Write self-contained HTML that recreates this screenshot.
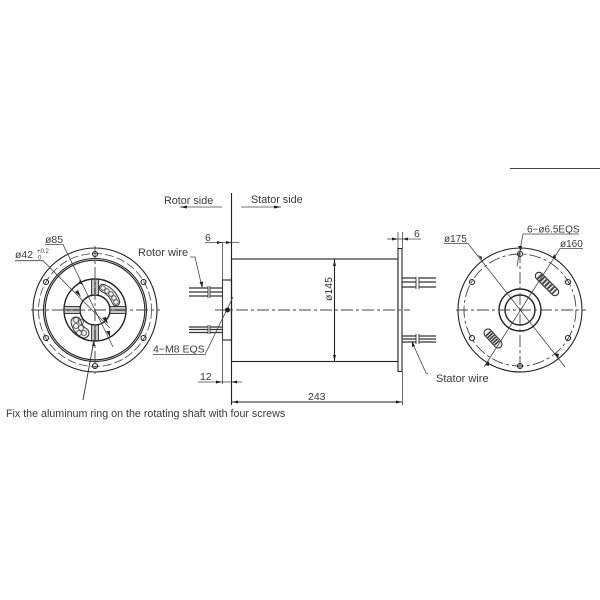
<!DOCTYPE html>
<html><head><meta charset="utf-8"><style>
html,body{margin:0;padding:0;background:#fff;width:600px;height:600px;overflow:hidden}
svg{display:block;filter:blur(.3px)}
text{font-family:"Liberation Sans",sans-serif;fill:#3a3a3a}
.l{stroke:#222;stroke-width:1.1;fill:none}
.t{stroke:#444;stroke-width:.8;fill:none}
.c{stroke:#444;stroke-width:.9;fill:none;stroke-dasharray:12 3 3 3}
.d{stroke:#444;stroke-width:.8;fill:none;stroke-dasharray:9 3}
.h{stroke:#222;stroke-width:1.4;fill:none}
.a{fill:#222;stroke:none}
.w{stroke:#333;stroke-width:1.3;fill:none}
</style></head><body>
<svg width="600" height="600" viewBox="0 0 600 600" xmlns="http://www.w3.org/2000/svg">
<line x1="510" y1="168.500" x2="600" y2="168.500" stroke="#444" stroke-width="1"/>

<!-- Left view -->
<g>
<circle cx="95" cy="310" r="62" class="l"/>
<circle cx="95" cy="310" r="51.500" class="l"/>
<circle cx="95" cy="310" r="49.800" class="l"/>
<circle cx="95" cy="310" r="56.500" class="d"/>
<circle cx="95" cy="310" r="31" class="h"/>
<circle cx="95" cy="310" r="15" class="h"/>
<g stroke="#888" stroke-width="3">
<path d="M95 280V295M95 325V340M65 310H80M110 310H125"/>
</g>
<g class="l">
<path d="M91.700 280V295M98.300 280V295M91.700 325V340M98.300 325V340M65 306.700H80M65 313.300H80M110 306.700H125M110 313.300H125"/>
</g>
<line x1="31" y1="310" x2="160" y2="310" class="c"/>
<line x1="95" y1="246" x2="95" y2="374" class="c"/>
<g class="l" fill="#fff">
<circle cx="95" cy="254" r="2.500"/><circle cx="95" cy="366" r="2.500"/>
<circle cx="46" cy="282" r="2.500"/><circle cx="143.500" cy="282" r="2.500"/>
<circle cx="46" cy="338" r="2.500"/><circle cx="143.500" cy="338" r="2.500"/>
</g>
<path d="M103 288 A24 24 0 0 1 116 302" stroke="#333" stroke-width="8.500" stroke-linecap="round" fill="none"/>
<path d="M103 288 A24 24 0 0 1 116 302" stroke="#eee" stroke-width="6.500" stroke-linecap="round" fill="none"/>
<g class="t" stroke-width="1">
<circle cx="103" cy="288" r="2.300"/><circle cx="107" cy="291" r="2.300"/><circle cx="111" cy="294" r="2.300"/><circle cx="114" cy="298" r="2.300"/><circle cx="116" cy="302" r="2.300"/>
</g>
<path d="M76 322 Q78 330 84 333" stroke="#333" stroke-width="11" stroke-linecap="round" fill="none"/>
<path d="M76 322 Q78 330 84 333" stroke="#eee" stroke-width="9" stroke-linecap="round" fill="none"/>
<g class="t" stroke-width="1">
<circle cx="76" cy="320" r="2.500"/><circle cx="81" cy="322" r="2.500"/><circle cx="76" cy="326" r="2.500"/><circle cx="81" cy="328" r="2.500"/><circle cx="84" cy="333" r="2.500"/><circle cx="79" cy="333" r="2.500"/>
</g>
<polyline points="15,260.700 43,260.700 110,328" class="t"/>
<polyline points="45,244.500 63,244.500 113,347" class="t"/>
<polygon class="a" points="80,279 83,285 79,283"/>
<polygon class="a" points="81,297 75,292 78,290"/>
<polygon class="a" points="110,337 106,331 110,331"/>
<polygon class="a" points="108,324 102,318 106,317"/>
<polygon class="a" points="94,340 92,346 95,346"/>
<line x1="83" y1="400" x2="94" y2="340" stroke="#333" stroke-width=".9"/>
</g>
<text x="45" y="243" font-size="10.500">ø85</text>
<text x="15" y="258" font-size="10.500">ø42</text>
<text x="37" y="253" font-size="6">+0.2</text>
<text x="38" y="259.500" font-size="6">0</text>

<!-- Side labels -->
<text x="164" y="204" font-size="10.800">Rotor side</text>
<text x="251" y="203" font-size="10.800">Stator side</text>
<line x1="180" y1="207" x2="222" y2="207" class="t"/>
<polygon class="a" points="180,207 187,205.500 187,208.500"/>
<line x1="241" y1="207" x2="281" y2="207" class="t"/>
<polygon class="a" points="281,207 274,205.500 274,208.500"/>

<!-- Side view -->
<line x1="231.500" y1="193" x2="231.500" y2="405" stroke="#222" stroke-width="1.1"/>
<rect x="231.500" y="259" width="166.500" height="102.500" class="l"/>
<rect x="222.500" y="280" width="9" height="60" class="l"/>
<rect x="398" y="248.500" width="4" height="123" fill="#fff" stroke="#222" stroke-width="1.1"/>
<line x1="215" y1="310" x2="410" y2="310" class="c"/>
<line x1="222.500" y1="242" x2="222.500" y2="384" class="t"/>
<line x1="402.500" y1="372" x2="402.500" y2="405" class="t"/>
<line x1="398" y1="232" x2="398" y2="248" class="t"/>
<line x1="402.500" y1="232" x2="402.500" y2="248" class="t"/>

<!-- wires left -->
<g class="w">
<path d="M189 288H208M210 288H222.500M189 292H208M210 292H222.500M189 296H208M210 296H222.500"/>
<path d="M189 327H208M210 327H222.500M189 329.500H208M210 329.500H222.500M189 332.500H208M210 332.500H222.500"/>
<path d="M208 286V298M210 286V298M208 325V334M210 325V334" stroke-width=".9"/>
</g>
<!-- wires right -->
<g class="w">
<path d="M402 278H416M419 278H436M402 282H416M419 282H436M402 287H416M419 287H436"/>
<path d="M402 336H416M419 336H436M402 339H416M419 339H436M402 342H416M419 342H436"/>
<path d="M416 277V289M419 277V289M416 334V344M419 334V344" stroke-width=".9"/>
</g>

<!-- dims side -->
<text x="205" y="241" font-size="10.500">6</text>
<line x1="205" y1="242.500" x2="239" y2="242.500" class="t"/>
<text x="414" y="237" font-size="10.500">6</text>
<line x1="387" y1="239" x2="421" y2="239" class="t"/>
<polygon class="a" points="398,239 392,237.500 392,240.500"/>
<polygon class="a" points="402.500,239 408,237.500 408,240.500"/>
<polygon class="a" points="222,242.500 217,241 217,244"/>
<polygon class="a" points="231.500,242.500 226,241 226,244"/>
<text x="200" y="380" font-size="10.500">12</text>
<line x1="198" y1="382" x2="242" y2="382" class="t"/>
<polygon class="a" points="222,382 216,380.500 216,383.500"/>
<polygon class="a" points="231.500,382 237,380.500 237,383.500"/>
<line x1="231.500" y1="402" x2="402" y2="402" class="l"/>
<polygon class="a" points="232,402 238,400.500 238,403.500"/>
<polygon class="a" points="402,402 396,400.500 396,403.500"/>
<text x="308" y="400" font-size="10.500">243</text>
<line x1="334.500" y1="259" x2="334.500" y2="361" class="l"/>
<polygon class="a" points="334.500,260 333,266 336,266"/>
<polygon class="a" points="334.500,361 333,355 336,355"/>
<text x="0" y="0" font-size="10.500" transform="translate(332,301) rotate(-90)">ø145</text>

<!-- leaders -->
<text x="138" y="256" font-size="11">Rotor wire</text>
<polyline points="190,257 195,257 202,287" class="t"/>
<polygon class="a" points="202.500,288 199.500,282 203,281.500"/>
<text x="153" y="352.500" font-size="10.500">4−M8 EQS</text>
<polyline points="153,354.500 205,354.500 233,297" class="t"/>
<circle cx="227.500" cy="310" r="2.500" fill="#222"/>
<text x="436" y="382" font-size="11">Stator wire</text>
<polyline points="428,374 426,373 412,342" class="t"/>
<polygon class="a" points="412,341 412,347 415,346"/>

<!-- Right view -->
<g>
<circle cx="520" cy="310" r="62" class="l"/>
<circle cx="520" cy="310" r="56" class="c"/>
<circle cx="520" cy="310" r="21" class="h"/>
<circle cx="520" cy="310" r="15" class="h"/>
<line x1="456" y1="310" x2="586" y2="310" class="c"/>
<line x1="520" y1="251" x2="520" y2="373" class="c"/>
<g class="l" fill="#fff">
<circle cx="520" cy="254" r="2.500"/><circle cx="520" cy="366" r="2.500"/>
<circle cx="472" cy="282" r="2.500"/><circle cx="568" cy="282" r="2.500"/>
<circle cx="472" cy="338" r="2.500"/><circle cx="568" cy="338" r="2.500"/>
</g>
<path d="M539 276 L555 292" stroke="#222" stroke-width="8.500" stroke-linecap="round"/>
<path d="M539 276 L555 292" stroke="#eee" stroke-width="6.500" stroke-linecap="round"/>
<path d="M539 276 L555 292" stroke="#444" stroke-width="6" stroke-dasharray="2 1.500"/>
<path d="M488 333 L498 344" stroke="#222" stroke-width="9" stroke-linecap="round"/>
<path d="M488 333 L498 344" stroke="#eee" stroke-width="7" stroke-linecap="round"/>
<path d="M488 333 L498 344" stroke="#333" stroke-width="6.500" stroke-dasharray="1.500 1"/>
<polyline points="444,243.500 468,243.500 565,367" class="t"/>
<polyline points="583,248.500 560,248.500 484,367" class="t"/>
<polyline points="579,234 523,234 517,266" class="t"/>
<polygon class="a" points="482,260 478,255 482,257"/>
<polygon class="a" points="558,359 554,353 559,354"/>
<polygon class="a" points="552,258 555,254 556,258"/>
<polygon class="a" points="489,361 489,366 485,365"/>
<polygon class="a" points="521,251 518,246 522,246"/>
</g>
<text x="444" y="242" font-size="10">ø175</text>
<text x="527" y="232.500" font-size="10">6−ø6.5EQS</text>
<text x="560" y="247" font-size="10">ø160</text>

<text x="6" y="417" font-size="10.700" fill="#333">Fix the aluminum ring on the rotating shaft with four screws</text>
</svg>
</body></html>
